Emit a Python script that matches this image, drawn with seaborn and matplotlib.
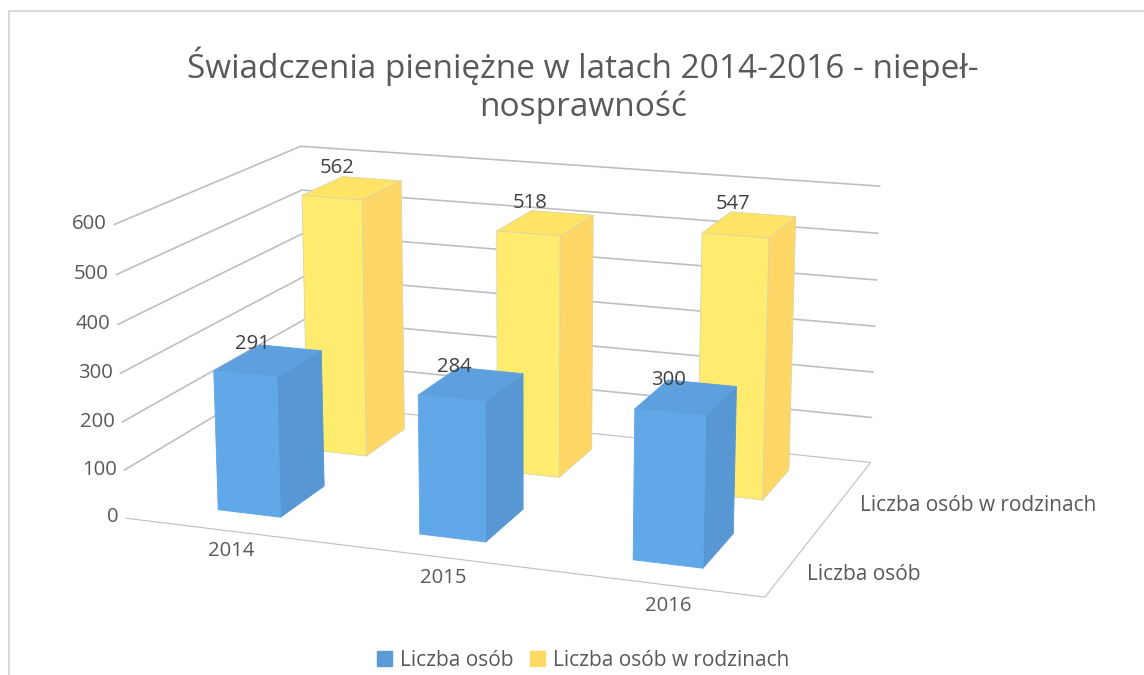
import numpy as np
import matplotlib
matplotlib.use("Agg")
import matplotlib.pyplot as plt
from matplotlib.lines import Line2D
from matplotlib.patches import Patch
from mpl_toolkits.mplot3d import proj3d
import seaborn as sns

years = ["2014", "2015", "2016"]
series = ["Liczba osób", "Liczba osób w rodzinach"]
liczba_osob = [291, 284, 300]
liczba_w_rodzinach = [562, 518, 547]
z_ticks = [0, 100, 200, 300, 400, 500, 600]
title = "Świadczenia pieniężne w latach 2014-2016 - niepeł-\nnosprawność"

sns.set_theme(style="white")
plt.rcParams["font.family"] = ["Open Sans", "DejaVu Sans"]

TEXT = "#595959"
GRID = "#BFBFBF"
FS = 14.6
# bar3d face order: bottom, top, front(-y), back(+y), left(-x), right(+x)
NONE = (1, 1, 1, 0)
BLUE = [NONE, "#5E9FDE", "#61A8E8", NONE, NONE, "#5797D3"]
YELLOW = [NONE, "#FFE465", "#FFEB6E", NONE, NONE, "#FFD766"]
YELLOW_EDGE = [NONE, "#DDD5A0", "#DDD5A0", NONE, NONE, "#DDD5A0"]

W, H = 1144, 675
fig = plt.figure(figsize=(W / 100, H / 100), dpi=100)

# camera fitted against the reference corners
ax_px = 805.3
ax = fig.add_axes([96.2 / W, -87.75 / H, ax_px / W, ax_px / H], projection="3d")
ax.view_init(elev=15.09, azim=-69.71, roll=0.11)
ax.set_proj_type("persp", focal_length=0.607)
ax.set_box_aspect((1, 0.6605, 0.4554))
ax.set_xlim(0, 3, view_margin=0)
ax.set_ylim(0, 2, view_margin=0)
ax.set_zlim(0, 600, view_margin=0)

bar_w, bar_d = 0.315, 0.49

# all bars in one collection so the faces get sorted together
xs, ys, hs, faces, edges = [], [], [], [], []
for j, vals in enumerate([liczba_osob, liczba_w_rodzinach]):
    for i, v in enumerate(vals):
        xs.append(i + 0.5 - bar_w / 2)
        ys.append(j + 0.5 - bar_d / 2)
        hs.append(v)
        faces += BLUE if j == 0 else YELLOW
        edges += BLUE if j == 0 else YELLOW_EDGE
ax.bar3d(xs, ys, np.zeros(len(xs)), bar_w, bar_d, hs, color=faces,
         edgecolor=edges, linewidth=0.6, shade=False)

# walls and floor, the 0 line comes from the thinner floor edge
ax.set_xticks([])
ax.set_yticks([])
ax.set_zticks(z_ticks[1:])
ax.set_zticklabels([])
ax.tick_params(axis="z", color=NONE)
ax.grid(True)
ax.zaxis._axinfo["grid"].update(color=GRID, linewidth=1.2)
for axis in (ax.xaxis, ax.yaxis, ax.zaxis):
    axis.line.set_color(NONE)
    axis.set_pane_color((1, 1, 1, 1))
    axis.pane.set_edgecolor(NONE)
ax.zaxis.pane.set_edgecolor(GRID)
ax.zaxis.pane.set_linewidth(0.8)


def label(x, y, z, s, **kw):
    # project to the 2D plane so the text stays a plain flat label
    X, Y, _ = proj3d.proj_transform(x, y, z, ax.get_proj())
    ax.text2D(X, Y, s, transform=ax.transData, **kw)


# tick labels
for z in z_ticks:
    label(-0.035, 0, z, str(z), ha="right", va="center", color=TEXT, fontsize=FS)
for i, year in enumerate(years):
    label(i + 0.65, -0.24, 0, year, ha="center", va="center", color=TEXT, fontsize=FS)
for j, name in enumerate(series):
    label(3.1, j + 0.33, 0, name, ha="left", va="center", color=TEXT, fontsize=15)

# value labels
for j, (vals, dz) in enumerate(zip([liczba_osob, liczba_w_rodzinach], [11, 19])):
    for i, v in enumerate(vals):
        label(i + 0.42, j + 0.5, v + dz, str(v), ha="center", va="bottom",
              color="#404040", fontsize=FS)

fig.text(583 / W, 1 - 85 / H, title, ha="center", va="center", color=TEXT,
         fontsize=24.05, linespacing=1.18)

handles = [Patch(color="#5B9BD5", label=series[0]), Patch(color="#FFD966", label=series[1])]
fig.legend(handles=handles, loc="center", bbox_to_anchor=(583 / W, 1 - 660 / H), ncol=2,
           frameon=False, fontsize=15, labelcolor=TEXT, handlelength=0.73, handleheight=0.7,
           handletextpad=0.39, columnspacing=0.78, borderpad=0)

# chart frame, cut off by the image on the right and bottom
fig.add_artist(Line2D([8.5 / W, 8.5 / W, 1], [0, 1 - 11 / H, 1 - 11 / H], color="#D9D9D9", lw=1.5))

fig.savefig("out.png", dpi=100)
